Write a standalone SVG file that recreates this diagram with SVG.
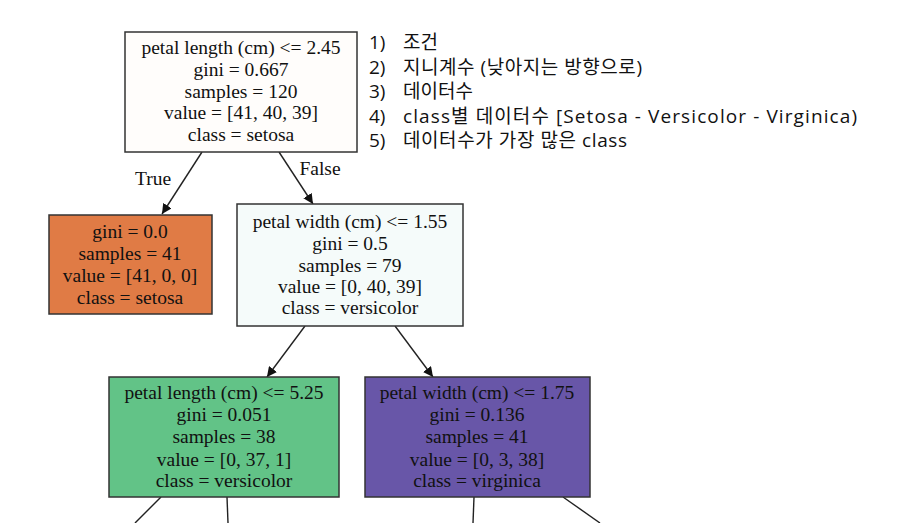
<svg xmlns="http://www.w3.org/2000/svg" width="899" height="523" viewBox="0 0 899 523">
<style>
.box{stroke:#333;stroke-width:1.5}
.t{font-family:"Liberation Serif","Times New Roman",serif;font-size:19.5px;fill:#111;text-anchor:middle}
.e{stroke:#222;stroke-width:1.4;fill:none}
.leg{font-family:"Open Sans","Noto Sans CJK KR",sans-serif;font-size:19px;fill:#111}
</style>
<defs>
<marker id="ah" viewBox="0 0 10 10" refX="10" refY="5" markerWidth="10" markerHeight="10" markerUnits="userSpaceOnUse" orient="auto">
<path d="M0,0 L10,5 L0,10 z" fill="#111"/>
</marker>
</defs>
<rect width="899" height="523" fill="#fff"/>
<g id="connectors">
<line class="e" x1="202" y1="152" x2="162" y2="214" marker-end="url(#ah)"/>
<line class="e" x1="279" y1="152" x2="313" y2="204" marker-end="url(#ah)"/>
<line class="e" x1="305" y1="326" x2="267" y2="377" marker-end="url(#ah)"/>
<line class="e" x1="395" y1="326" x2="433" y2="377" marker-end="url(#ah)"/>
<line class="e" x1="161" y1="497" x2="135" y2="523"/>
<line class="e" x1="227" y1="497" x2="228" y2="523"/>
<line class="e" x1="474" y1="497" x2="473" y2="523"/>
<line class="e" x1="563" y1="497" x2="600" y2="523"/>
<text class="t" x="153" y="185">True</text>
<text class="t" x="320" y="175">False</text>
</g>
<g id="root">
<rect class="box" x="125" y="32" width="232" height="120" fill="#fffdfb"/>
<text class="t" x="241" y="54">petal length (cm) &lt;= 2.45</text>
<text class="t" x="241" y="76">gini = 0.667</text>
<text class="t" x="241" y="98">samples = 120</text>
<text class="t" x="241" y="119">value = [41, 40, 39]</text>
<text class="t" x="241" y="141">class = setosa</text>
</g>
<g id="leaf-setosa">
<rect class="box" x="49" y="215" width="163" height="99" fill="#e07b45"/>
<text class="t" x="130" y="238">gini = 0.0</text>
<text class="t" x="130" y="260">samples = 41</text>
<text class="t" x="130" y="282">value = [41, 0, 0]</text>
<text class="t" x="130" y="304">class = setosa</text>
</g>
<g id="node-pw155">
<rect class="box" x="237" y="204" width="226" height="122" fill="#f5fbfa"/>
<text class="t" x="350" y="228">petal width (cm) &lt;= 1.55</text>
<text class="t" x="350" y="250">gini = 0.5</text>
<text class="t" x="350" y="272">samples = 79</text>
<text class="t" x="350" y="293">value = [0, 40, 39]</text>
<text class="t" x="350" y="314">class = versicolor</text>
</g>
<g id="node-pl525">
<rect class="box" x="109" y="377" width="230" height="120" fill="#62c387"/>
<text class="t" x="224" y="399">petal length (cm) &lt;= 5.25</text>
<text class="t" x="224" y="421">gini = 0.051</text>
<text class="t" x="224" y="443">samples = 38</text>
<text class="t" x="224" y="466">value = [0, 37, 1]</text>
<text class="t" x="224" y="487">class = versicolor</text>
</g>
<g id="node-pw175">
<rect class="box" x="365" y="377" width="225" height="120" fill="#6856a8"/>
<text class="t" x="477" y="399">petal width (cm) &lt;= 1.75</text>
<text class="t" x="477" y="421">gini = 0.136</text>
<text class="t" x="477" y="443">samples = 41</text>
<text class="t" x="477" y="466">value = [0, 3, 38]</text>
<text class="t" x="477" y="487">class = virginica</text>
</g>
<g id="legend">
<text class="leg" x="369" y="49">1)</text><text class="leg" x="403" y="49">조건</text>
<text class="leg" x="369" y="73.5">2)</text><text class="leg" x="403" y="73.5" textLength="239" lengthAdjust="spacing">지니계수 (낮아지는 방향으로)</text>
<text class="leg" x="369" y="98">3)</text><text class="leg" x="403" y="98">데이터수</text>
<text class="leg" x="369" y="122.5">4)</text><text class="leg" x="403" y="122.5" textLength="454" lengthAdjust="spacing">class별 데이터수 [Setosa - Versicolor - Virginica)</text>
<text class="leg" x="369" y="147">5)</text><text class="leg" x="403" y="147" textLength="224" lengthAdjust="spacing">데이터수가 가장 많은 class</text>
</g>
</svg>
